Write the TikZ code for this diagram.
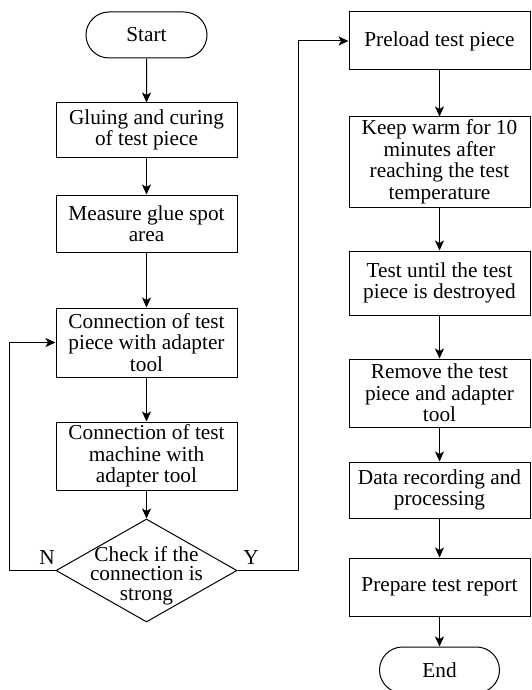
\documentclass[tikz,border=0pt]{standalone}
\usepackage{fontspec}
\setmainfont{Liberation Serif}
\usetikzlibrary{arrows.meta,shapes.geometric,shapes.misc}
\begin{document}
\begin{tikzpicture}[x=1pt,y=-1pt,
  every node/.style={font=\fontsize{21.3}{21.5}\selectfont},
  procbox/.style={draw,line width=1pt,rectangle,minimum width=181pt,inner sep=0pt,align=center},
  termbox/.style={draw,line width=1pt,rounded rectangle,minimum width=121pt,minimum height=46pt,inner sep=0pt},
  decbox/.style={draw,line width=1pt,diamond,minimum width=181pt,minimum height=103pt,inner sep=0pt},
  arr/.style={line width=1pt,-{Stealth[length=10pt,width=9pt,inset=2.5pt]}},
  lbl/.style={inner sep=0pt}]
\useasboundingbox (0,0) rectangle (531,690);
% left column
\node[termbox] (start) at (146.5,35) {Start};
\node[procbox,minimum height=54pt] (b1) at (146.5,130) {Gluing and curing\\of test piece};
\node[procbox,minimum height=57pt] (b2) at (146.5,223.5) {Measure glue spot\\area};
\node[procbox,minimum height=69pt] (b3) at (146.5,342.5) {Connection of test\\piece with adapter\\tool};
\node[procbox,minimum height=68pt] (b4) at (146.5,456) {Connection of test\\machine with\\adapter tool};
\node[decbox] (d) at (146.5,570.5) {};
\node[align=center,inner sep=0pt,font=\fontsize{21.3}{19.5}\selectfont] (dt) at (146.5,575.5) {Check if the\\connection is\\strong};
\node[lbl] (nl) at (47,558) {N};
\node[lbl] (yl) at (251,558) {Y};
% right column
\node[procbox,minimum height=58pt] (p1) at (439.5,41) {Preload test piece};
\node[procbox,minimum height=90pt] (p2) at (439.5,162) {Keep warm for 10\\minutes after\\reaching the test\\temperature};
\node[procbox,minimum height=64pt] (p3) at (439.5,283) {Test until the test\\piece is destroyed};
\node[procbox,minimum height=68pt] (p4) at (439.5,393) {Remove the test\\piece and adapter\\tool};
\node[procbox,minimum height=56pt] (p5) at (439.5,490) {Data recording and\\processing};
\node[procbox,minimum height=58pt] (p6) at (439.5,587) {Prepare test report};
\node[termbox,minimum width=120pt] (end) at (439.5,670) {End};
% connectors
\draw[arr] (start) -- (b1);
\draw[arr] (b1) -- (b2);
\draw[arr] (b2) -- (b3);
\draw[arr] (b3) -- (b4);
\draw[arr] (b4) -- (d);
\draw[arr] (d.west) -- ++(-46,0) |- (b3.west);
\draw[arr] (d.east) -- ++(61,0) |- (p1.west);
\draw[arr] (p1) -- (p2);
\draw[arr] (p2) -- (p3);
\draw[arr] (p3) -- (p4);
\draw[arr] (p4) -- (p5);
\draw[arr] (p5) -- (p6);
\draw[arr] (p6) -- (end);
\end{tikzpicture}
\end{document}
